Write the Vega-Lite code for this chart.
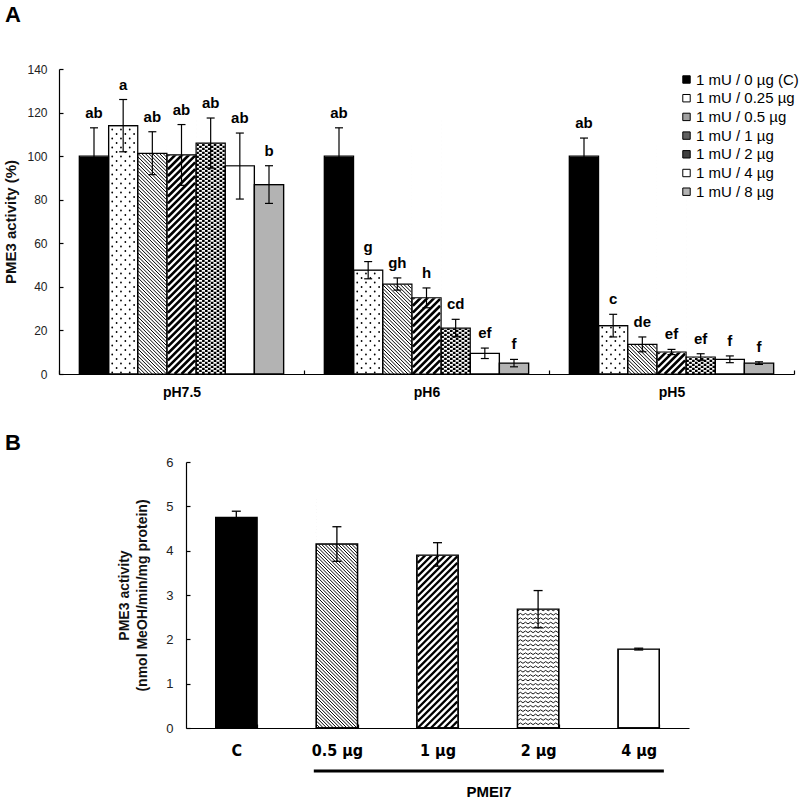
{
  "$schema": "https://vega.github.io/schema/vega-lite/v6.json",
  "background": "white",
  "padding": {"left": 3, "top": 4, "right": 0, "bottom": 0},
  "spacing": 33,
  "config": {
    "view": {"stroke": null},
    "font": "Liberation Sans",
    "axis": {"domainColor": "black", "tickColor": "black", "domainWidth": 1.2, "tickWidth": 1.2, "labelColor": "#222", "titleColor": "#111", "grid": false, "tickSize": -4}
  },
  "datasets": {
    "a": [
      {"ph": "pH7.5", "dose": "1 mU / 0 µg (C)", "v": 100, "lo": 87, "hi": 113, "lab": "ab"},
      {"ph": "pH7.5", "dose": "1 mU / 0.25 µg", "v": 114, "lo": 102, "hi": 126, "lab": "a"},
      {"ph": "pH7.5", "dose": "1 mU / 0.5 µg", "v": 101.3, "lo": 91.5, "hi": 111.2, "lab": "ab"},
      {"ph": "pH7.5", "dose": "1 mU / 1 µg", "v": 100.6, "lo": 86.6, "hi": 114.5, "lab": "ab"},
      {"ph": "pH7.5", "dose": "1 mU / 2 µg", "v": 106, "lo": 94.5, "hi": 117.5, "lab": "ab"},
      {"ph": "pH7.5", "dose": "1 mU / 4 µg", "v": 95.6, "lo": 80.3, "hi": 110.6, "lab": "ab"},
      {"ph": "pH7.5", "dose": "1 mU / 8 µg", "v": 86.9, "lo": 78.3, "hi": 95.6, "lab": "b"},
      {"ph": "pH6", "dose": "1 mU / 0 µg (C)", "v": 100, "lo": 87, "hi": 113, "lab": "ab"},
      {"ph": "pH6", "dose": "1 mU / 0.25 µg", "v": 47.7, "lo": 43.7, "hi": 51.6, "lab": "g"},
      {"ph": "pH6", "dose": "1 mU / 0.5 µg", "v": 41.3, "lo": 38.5, "hi": 44.1, "lab": "gh"},
      {"ph": "pH6", "dose": "1 mU / 1 µg", "v": 35, "lo": 30.4, "hi": 39.5, "lab": "h"},
      {"ph": "pH6", "dose": "1 mU / 2 µg", "v": 21.1, "lo": 17.1, "hi": 25.1, "lab": "cd"},
      {"ph": "pH6", "dose": "1 mU / 4 µg", "v": 9.5, "lo": 7.1, "hi": 11.9, "lab": "ef"},
      {"ph": "pH6", "dose": "1 mU / 8 µg", "v": 5, "lo": 3.3, "hi": 6.7, "lab": "f"},
      {"ph": "pH5", "dose": "1 mU / 0 µg (C)", "v": 100, "lo": 91.7, "hi": 108.3, "lab": "ab"},
      {"ph": "pH5", "dose": "1 mU / 0.25 µg", "v": 22.2, "lo": 17, "hi": 27.4, "lab": "c"},
      {"ph": "pH5", "dose": "1 mU / 0.5 µg", "v": 13.6, "lo": 10.2, "hi": 17, "lab": "de"},
      {"ph": "pH5", "dose": "1 mU / 1 µg", "v": 10.1, "lo": 8.9, "hi": 11.3, "lab": "ef"},
      {"ph": "pH5", "dose": "1 mU / 2 µg", "v": 7.8, "lo": 6.3, "hi": 9.3, "lab": "ef"},
      {"ph": "pH5", "dose": "1 mU / 4 µg", "v": 6.7, "lo": 5.2, "hi": 8.3, "lab": "f"},
      {"ph": "pH5", "dose": "1 mU / 8 µg", "v": 5, "lo": 4.4, "hi": 5.6, "lab": "f"}
    ],
    "b": [
      {"t": "C", "v": 4.75, "lo": 4.61, "hi": 4.89},
      {"t": "0.5 µg", "v": 4.15, "lo": 3.76, "hi": 4.54},
      {"t": "1 µg", "v": 3.9, "lo": 3.65, "hi": 4.18},
      {"t": "2 µg", "v": 2.68, "lo": 2.26, "hi": 3.1},
      {"t": "4 µg", "v": 1.78, "lo": 1.76, "hi": 1.8}
    ]
  },
  "vconcat": [
    {
      "width": 735,
      "height": 305,
      "title": {"text": "A", "anchor": "start", "frame": "group", "dx": -54, "fontSize": 22, "fontWeight": "bold", "offset": 36, "color": "black"},
      "data": {"name": "a"},
      "encoding": {
        "x": {"field": "ph", "type": "nominal", "sort": ["pH7.5", "pH6", "pH5"], "scale": {"domain": ["pH7.5", "pH6", "pH5"], "paddingInner": 0, "paddingOuter": 0},
          "axis": {"title": null, "labelAngle": 0, "tickBand": "extent", "labelFontWeight": "bold", "labelFontSize": 14, "labelColor": "black", "labelPadding": 15}},
        "xOffset": {"field": "dose", "type": "nominal", "scale": {"domain": ["1 mU / 0 µg (C)", "1 mU / 0.25 µg", "1 mU / 0.5 µg", "1 mU / 1 µg", "1 mU / 2 µg", "1 mU / 4 µg", "1 mU / 8 µg"], "paddingInner": 0, "paddingOuter": 0.7}}
      },
      "layer": [
        {
          "mark": {"type": "bar", "stroke": "black", "strokeWidth": 1.2},
          "encoding": {
            "y": {"field": "v", "type": "quantitative", "scale": {"domain": [0, 140], "nice": false},
              "axis": {"title": "PME3 activity (%)", "values": [0, 20, 40, 60, 80, 100, 120, 140], "labelFontSize": 12, "labelPadding": 16, "titleFontSize": 15, "titleFontWeight": "bold", "titlePadding": 8}},
            "fill": {"field": "dose", "type": "nominal",
              "scale": {"domain": ["1 mU / 0 µg (C)", "1 mU / 0.25 µg", "1 mU / 0.5 µg", "1 mU / 1 µg", "1 mU / 2 µg", "1 mU / 4 µg", "1 mU / 8 µg"], "range": ["black", "white", "#a0a0a0", "#606060", "#404040", "white", "#b3b3b3"]},
              "legend": {"orient": "none", "legendX": 620, "legendY": 3, "title": null, "symbolType": "square", "symbolSize": 55, "symbolStrokeColor": "black", "symbolStrokeWidth": 1, "labelFontSize": 15, "labelColor": "black", "labelOffset": 2, "rowPadding": 2.7, "padding": 0, "labelLimit": 250}}
          }
        },
        {
          "transform": [{"filter": {"field": "dose", "oneOf": ["1 mU / 0.5 µg", "1 mU / 1 µg", "1 mU / 2 µg"]}}],
          "mark": {"type": "bar", "fill": "white"},
          "encoding": {"y": {"field": "v", "type": "quantitative"}}
        },
        {
          "transform": [{"filter": {"field": "dose", "equal": "1 mU / 0.5 µg"}}],
          "mark": {"type": "point", "filled": false, "opacity": 1, "stroke": "black", "strokeWidth": 1, "size": 50.6,
            "shape": "M-4 -72l8 8M-4 -71l8 8M-4 -70l8 8M-4 -69l8 8M-4 -68l8 8M-4 -67l8 8M-4 -66l8 8M-4 -65l8 8M-4 -64l8 8M-4 -63l8 8M-4 -62l8 8M-4 -61l8 8M-4 -60l8 8M-4 -59l8 8M-4 -58l8 8M-4 -57l8 8M-4 -56l8 8M-4 -55l8 8M-4 -54l8 8M-4 -53l8 8M-4 -52l8 8M-4 -51l8 8M-4 -50l8 8M-4 -49l8 8M-4 -48l8 8M-4 -47l8 8M-4 -46l8 8M-4 -45l8 8M-4 -44l8 8M-4 -43l8 8M-4 -42l8 8M-4 -41l8 8M-4 -40l8 8M-4 -39l8 8M-4 -38l8 8M-4 -37l8 8M-4 -36l8 8M-4 -35l8 8M-4 -34l8 8M-4 -33l8 8M-4 -32l8 8M-4 -31l8 8M-4 -30l8 8M-4 -29l8 8M-4 -28l8 8M-4 -27l8 8M-4 -26l8 8M-4 -25l8 8M-4 -24l8 8M-4 -23l8 8M-4 -22l8 8M-4 -21l8 8M-4 -20l8 8M-4 -19l8 8M-4 -18l8 8M-4 -17l8 8M-4 -16l8 8M-4 -15l8 8M-4 -14l8 8M-4 -13l8 8M-4 -12l8 8M-4 -11l8 8M-4 -10l8 8M-4 -9l8 8M-4 -8l8 8M-4 -7l7 7M-4 -6l6 6M-4 -5l5 5M-4 -4l4 4M-4 -3l3 3M-4 -2l2 2M-4 -1l1 1"},
          "encoding": {"y": {"datum": 0}}
        },
        {
          "transform": [{"filter": {"field": "dose", "equal": "1 mU / 1 µg"}}],
          "mark": {"type": "point", "filled": false, "opacity": 1, "stroke": "black", "strokeWidth": 2.6, "size": 46.6,
            "shape": "M-4 -68l8 -8M-4 -66l8 -8M-4 -64l8 -8M-4 -62l8 -8M-4 -60l8 -8M-4 -58l8 -8M-4 -56l8 -8M-4 -54l8 -8M-4 -52l8 -8M-4 -50l8 -8M-4 -48l8 -8M-4 -46l8 -8M-4 -44l8 -8M-4 -42l8 -8M-4 -40l8 -8M-4 -38l8 -8M-4 -36l8 -8M-4 -34l8 -8M-4 -32l8 -8M-4 -30l8 -8M-4 -28l8 -8M-4 -26l8 -8M-4 -24l8 -8M-4 -22l8 -8M-4 -20l8 -8M-4 -18l8 -8M-4 -16l8 -8M-4 -14l8 -8M-4 -12l8 -8M-4 -10l8 -8M-4 -8l8 -8M-4 -6l8 -8M-4 -4l8 -8M-4 -2l8 -8M-4 0l8 -8M-2 0l6 -6M0 0l4 -4M2 0l2 -2"},
          "encoding": {"y": {"datum": 0}}
        },
        {
          "transform": [{"filter": {"field": "dose", "equal": "1 mU / 0.25 µg"}}],
          "mark": {"type": "point", "filled": false, "opacity": 1, "stroke": "black", "strokeWidth": 1.8, "strokeCap": "round", "strokeDash": [0.1, 8.9], "size": 53.2,
            "shape": "M-3 -0.4L-3 -70M-1.8 -1.63L-1.8 -70M-0.6 -0.4L-0.6 -70M0.6 -1.63L0.6 -70M1.8 -0.4L1.8 -70M3 -1.63L3 -70"},
          "encoding": {"y": {"datum": 0}}
        },
        {
          "transform": [{"filter": {"field": "dose", "equal": "1 mU / 2 µg"}}],
          "mark": {"type": "point", "filled": false, "opacity": 1, "stroke": "black", "strokeWidth": 2.6, "strokeDash": [2.3, 1.7], "size": 53.2,
            "shape": "M-3.6 0L-3.6 -70M-2.8 -0.55L-2.8 -70M-2 0L-2 -70M-1.2 -0.55L-1.2 -70M-0.4 0L-0.4 -70M0.4 -0.55L0.4 -70M1.2 0L1.2 -70M2 -0.55L2 -70M2.8 0L2.8 -70M3.6 -0.55L3.6 -70"},
          "encoding": {"y": {"datum": 0}}
        },
        {
          "mark": {"type": "bar", "fill": "white", "stroke": "white", "strokeWidth": 1},
          "encoding": {"y": {"field": "v", "type": "quantitative"}, "y2": {"datum": 140}}
        },
        {
          "mark": {"type": "bar", "fill": "transparent", "stroke": "black", "strokeWidth": 1.2},
          "encoding": {"y": {"field": "v", "type": "quantitative"}}
        },
        {
          "mark": {"type": "rule", "strokeWidth": 1.2, "color": "black"},
          "encoding": {"y": {"field": "lo", "type": "quantitative"}, "y2": {"field": "hi"}}
        },
        {
          "mark": {"type": "tick", "size": 8, "thickness": 1.2, "color": "black", "opacity": 1},
          "encoding": {"y": {"field": "hi", "type": "quantitative"}}
        },
        {
          "mark": {"type": "tick", "size": 8, "thickness": 1.2, "color": "black", "opacity": 1},
          "encoding": {"y": {"field": "lo", "type": "quantitative"}}
        },
        {
          "mark": {"type": "text", "dy": -10, "baseline": "alphabetic", "fontSize": 15, "fontWeight": "bold", "color": "black"},
          "encoding": {"y": {"field": "hi", "type": "quantitative"}, "text": {"field": "lab"}}
        }
      ]
    },
    {
      "spacing": 0,
      "hconcat": [
        {
          "width": 58,
          "height": 266,
          "title": {"text": "B", "anchor": "start", "frame": "group", "dx": -54, "fontSize": 22, "fontWeight": "bold", "offset": 7, "color": "black"},
          "data": {"values": [{}]},
          "mark": {"type": "point", "opacity": 0},
          "encoding": {}
        },
        {
          "width": 503,
          "height": 266,
          "data": {"name": "b"},
          "encoding": {
            "x": {"field": "t", "type": "nominal", "sort": ["C", "0.5 µg", "1 µg", "2 µg", "4 µg"], "scale": {"domain": ["C", "0.5 µg", "1 µg", "2 µg", "4 µg"], "paddingInner": 0.59, "paddingOuter": 0.295},
              "axis": {"title": null, "labelAngle": 0, "tickBand": "extent", "labelFontWeight": "bold", "labelFontSize": 16, "labelFont": "Liberation Sans Narrow, DejaVu Sans Condensed, Liberation Sans", "labelColor": "black", "labelPadding": 18}}
          },
          "layer": [
            {
              "mark": {"type": "bar", "stroke": "black", "strokeWidth": 1.3},
              "encoding": {
                "y": {"field": "v", "type": "quantitative", "scale": {"domain": [0, 6], "nice": false},
                  "axis": {"title": ["PME3 activity", "(nmol MeOH/min/mg protein)"], "values": [0, 1, 2, 3, 4, 5, 6], "labelFontSize": 13, "labelPadding": 17, "titleFontSize": 14, "titleFontWeight": "bold", "titleLineHeight": 18, "titlePadding": 16}},
                "fill": {"condition": {"test": "datum.t === 'C'", "value": "black"}, "value": "white"}
              }
            },
            {
              "transform": [{"filter": {"field": "t", "equal": "0.5 µg"}}],
              "mark": {"type": "point", "filled": false, "opacity": 1, "stroke": "black", "strokeWidth": 1, "size": 45.3,
                "shape": "M-6 -68l12 12M-6 -67l12 12M-6 -66l12 12M-6 -65l12 12M-6 -64l12 12M-6 -63l12 12M-6 -62l12 12M-6 -61l12 12M-6 -60l12 12M-6 -59l12 12M-6 -58l12 12M-6 -57l12 12M-6 -56l12 12M-6 -55l12 12M-6 -54l12 12M-6 -53l12 12M-6 -52l12 12M-6 -51l12 12M-6 -50l12 12M-6 -49l12 12M-6 -48l12 12M-6 -47l12 12M-6 -46l12 12M-6 -45l12 12M-6 -44l12 12M-6 -43l12 12M-6 -42l12 12M-6 -41l12 12M-6 -40l12 12M-6 -39l12 12M-6 -38l12 12M-6 -37l12 12M-6 -36l12 12M-6 -35l12 12M-6 -34l12 12M-6 -33l12 12M-6 -32l12 12M-6 -31l12 12M-6 -30l12 12M-6 -29l12 12M-6 -28l12 12M-6 -27l12 12M-6 -26l12 12M-6 -25l12 12M-6 -24l12 12M-6 -23l12 12M-6 -22l12 12M-6 -21l12 12M-6 -20l12 12M-6 -19l12 12M-6 -18l12 12M-6 -17l12 12M-6 -16l12 12M-6 -15l12 12M-6 -14l12 12M-6 -13l12 12M-6 -12l12 12M-6 -11l11 11M-6 -10l10 10M-6 -9l9 9M-6 -8l8 8M-6 -7l7 7M-6 -6l6 6M-6 -5l5 5M-6 -4l4 4M-6 -3l3 3M-6 -2l2 2M-6 -1l1 1"},
              "encoding": {"y": {"datum": 0}}
            },
            {
              "transform": [{"filter": {"field": "t", "equal": "1 µg"}}],
              "mark": {"type": "point", "filled": false, "opacity": 1, "stroke": "black", "strokeWidth": 2.3, "size": 43.6,
                "shape": "M-6 -56l12 -12M-6 -54l12 -12M-6 -52l12 -12M-6 -50l12 -12M-6 -48l12 -12M-6 -46l12 -12M-6 -44l12 -12M-6 -42l12 -12M-6 -40l12 -12M-6 -38l12 -12M-6 -36l12 -12M-6 -34l12 -12M-6 -32l12 -12M-6 -30l12 -12M-6 -28l12 -12M-6 -26l12 -12M-6 -24l12 -12M-6 -22l12 -12M-6 -20l12 -12M-6 -18l12 -12M-6 -16l12 -12M-6 -14l12 -12M-6 -12l12 -12M-6 -10l12 -12M-6 -8l12 -12M-6 -6l12 -12M-6 -4l12 -12M-6 -2l12 -12M-6 0l12 -12M-4 0l10 -10M-2 0l8 -8M0 0l6 -6M2 0l4 -4M4 0l2 -2"},
              "encoding": {"y": {"datum": 0}}
            },
            {
              "transform": [{"filter": {"field": "t", "equal": "2 µg"}}],
              "mark": {"type": "point", "filled": false, "opacity": 1, "stroke": "black", "strokeWidth": 0.9, "size": 45.4,
                "shape": "M-6 -1l0.75 -0.5 0.75 0.5 0.75 -0.5 0.75 0.5 0.75 -0.5 0.75 0.5 0.75 -0.5 0.75 0.5 0.75 -0.5 0.75 0.5 0.75 -0.5 0.75 0.5 0.75 -0.5 0.75 0.5 0.75 -0.5 0.75 0.5M-6 -2.3l0.75 -0.5 0.75 0.5 0.75 -0.5 0.75 0.5 0.75 -0.5 0.75 0.5 0.75 -0.5 0.75 0.5 0.75 -0.5 0.75 0.5 0.75 -0.5 0.75 0.5 0.75 -0.5 0.75 0.5 0.75 -0.5 0.75 0.5M-6 -3.6l0.75 -0.5 0.75 0.5 0.75 -0.5 0.75 0.5 0.75 -0.5 0.75 0.5 0.75 -0.5 0.75 0.5 0.75 -0.5 0.75 0.5 0.75 -0.5 0.75 0.5 0.75 -0.5 0.75 0.5 0.75 -0.5 0.75 0.5M-6 -4.9l0.75 -0.5 0.75 0.5 0.75 -0.5 0.75 0.5 0.75 -0.5 0.75 0.5 0.75 -0.5 0.75 0.5 0.75 -0.5 0.75 0.5 0.75 -0.5 0.75 0.5 0.75 -0.5 0.75 0.5 0.75 -0.5 0.75 0.5M-6 -6.2l0.75 -0.5 0.75 0.5 0.75 -0.5 0.75 0.5 0.75 -0.5 0.75 0.5 0.75 -0.5 0.75 0.5 0.75 -0.5 0.75 0.5 0.75 -0.5 0.75 0.5 0.75 -0.5 0.75 0.5 0.75 -0.5 0.75 0.5M-6 -7.5l0.75 -0.5 0.75 0.5 0.75 -0.5 0.75 0.5 0.75 -0.5 0.75 0.5 0.75 -0.5 0.75 0.5 0.75 -0.5 0.75 0.5 0.75 -0.5 0.75 0.5 0.75 -0.5 0.75 0.5 0.75 -0.5 0.75 0.5M-6 -8.8l0.75 -0.5 0.75 0.5 0.75 -0.5 0.75 0.5 0.75 -0.5 0.75 0.5 0.75 -0.5 0.75 0.5 0.75 -0.5 0.75 0.5 0.75 -0.5 0.75 0.5 0.75 -0.5 0.75 0.5 0.75 -0.5 0.75 0.5M-6 -10.1l0.75 -0.5 0.75 0.5 0.75 -0.5 0.75 0.5 0.75 -0.5 0.75 0.5 0.75 -0.5 0.75 0.5 0.75 -0.5 0.75 0.5 0.75 -0.5 0.75 0.5 0.75 -0.5 0.75 0.5 0.75 -0.5 0.75 0.5M-6 -11.4l0.75 -0.5 0.75 0.5 0.75 -0.5 0.75 0.5 0.75 -0.5 0.75 0.5 0.75 -0.5 0.75 0.5 0.75 -0.5 0.75 0.5 0.75 -0.5 0.75 0.5 0.75 -0.5 0.75 0.5 0.75 -0.5 0.75 0.5M-6 -12.7l0.75 -0.5 0.75 0.5 0.75 -0.5 0.75 0.5 0.75 -0.5 0.75 0.5 0.75 -0.5 0.75 0.5 0.75 -0.5 0.75 0.5 0.75 -0.5 0.75 0.5 0.75 -0.5 0.75 0.5 0.75 -0.5 0.75 0.5M-6 -14l0.75 -0.5 0.75 0.5 0.75 -0.5 0.75 0.5 0.75 -0.5 0.75 0.5 0.75 -0.5 0.75 0.5 0.75 -0.5 0.75 0.5 0.75 -0.5 0.75 0.5 0.75 -0.5 0.75 0.5 0.75 -0.5 0.75 0.5M-6 -15.3l0.75 -0.5 0.75 0.5 0.75 -0.5 0.75 0.5 0.75 -0.5 0.75 0.5 0.75 -0.5 0.75 0.5 0.75 -0.5 0.75 0.5 0.75 -0.5 0.75 0.5 0.75 -0.5 0.75 0.5 0.75 -0.5 0.75 0.5M-6 -16.6l0.75 -0.5 0.75 0.5 0.75 -0.5 0.75 0.5 0.75 -0.5 0.75 0.5 0.75 -0.5 0.75 0.5 0.75 -0.5 0.75 0.5 0.75 -0.5 0.75 0.5 0.75 -0.5 0.75 0.5 0.75 -0.5 0.75 0.5M-6 -17.9l0.75 -0.5 0.75 0.5 0.75 -0.5 0.75 0.5 0.75 -0.5 0.75 0.5 0.75 -0.5 0.75 0.5 0.75 -0.5 0.75 0.5 0.75 -0.5 0.75 0.5 0.75 -0.5 0.75 0.5 0.75 -0.5 0.75 0.5M-6 -19.2l0.75 -0.5 0.75 0.5 0.75 -0.5 0.75 0.5 0.75 -0.5 0.75 0.5 0.75 -0.5 0.75 0.5 0.75 -0.5 0.75 0.5 0.75 -0.5 0.75 0.5 0.75 -0.5 0.75 0.5 0.75 -0.5 0.75 0.5M-6 -20.5l0.75 -0.5 0.75 0.5 0.75 -0.5 0.75 0.5 0.75 -0.5 0.75 0.5 0.75 -0.5 0.75 0.5 0.75 -0.5 0.75 0.5 0.75 -0.5 0.75 0.5 0.75 -0.5 0.75 0.5 0.75 -0.5 0.75 0.5M-6 -21.8l0.75 -0.5 0.75 0.5 0.75 -0.5 0.75 0.5 0.75 -0.5 0.75 0.5 0.75 -0.5 0.75 0.5 0.75 -0.5 0.75 0.5 0.75 -0.5 0.75 0.5 0.75 -0.5 0.75 0.5 0.75 -0.5 0.75 0.5M-6 -23.1l0.75 -0.5 0.75 0.5 0.75 -0.5 0.75 0.5 0.75 -0.5 0.75 0.5 0.75 -0.5 0.75 0.5 0.75 -0.5 0.75 0.5 0.75 -0.5 0.75 0.5 0.75 -0.5 0.75 0.5 0.75 -0.5 0.75 0.5M-6 -24.4l0.75 -0.5 0.75 0.5 0.75 -0.5 0.75 0.5 0.75 -0.5 0.75 0.5 0.75 -0.5 0.75 0.5 0.75 -0.5 0.75 0.5 0.75 -0.5 0.75 0.5 0.75 -0.5 0.75 0.5 0.75 -0.5 0.75 0.5M-6 -25.7l0.75 -0.5 0.75 0.5 0.75 -0.5 0.75 0.5 0.75 -0.5 0.75 0.5 0.75 -0.5 0.75 0.5 0.75 -0.5 0.75 0.5 0.75 -0.5 0.75 0.5 0.75 -0.5 0.75 0.5 0.75 -0.5 0.75 0.5M-6 -27l0.75 -0.5 0.75 0.5 0.75 -0.5 0.75 0.5 0.75 -0.5 0.75 0.5 0.75 -0.5 0.75 0.5 0.75 -0.5 0.75 0.5 0.75 -0.5 0.75 0.5 0.75 -0.5 0.75 0.5 0.75 -0.5 0.75 0.5M-6 -28.3l0.75 -0.5 0.75 0.5 0.75 -0.5 0.75 0.5 0.75 -0.5 0.75 0.5 0.75 -0.5 0.75 0.5 0.75 -0.5 0.75 0.5 0.75 -0.5 0.75 0.5 0.75 -0.5 0.75 0.5 0.75 -0.5 0.75 0.5M-6 -29.6l0.75 -0.5 0.75 0.5 0.75 -0.5 0.75 0.5 0.75 -0.5 0.75 0.5 0.75 -0.5 0.75 0.5 0.75 -0.5 0.75 0.5 0.75 -0.5 0.75 0.5 0.75 -0.5 0.75 0.5 0.75 -0.5 0.75 0.5M-6 -30.9l0.75 -0.5 0.75 0.5 0.75 -0.5 0.75 0.5 0.75 -0.5 0.75 0.5 0.75 -0.5 0.75 0.5 0.75 -0.5 0.75 0.5 0.75 -0.5 0.75 0.5 0.75 -0.5 0.75 0.5 0.75 -0.5 0.75 0.5M-6 -32.2l0.75 -0.5 0.75 0.5 0.75 -0.5 0.75 0.5 0.75 -0.5 0.75 0.5 0.75 -0.5 0.75 0.5 0.75 -0.5 0.75 0.5 0.75 -0.5 0.75 0.5 0.75 -0.5 0.75 0.5 0.75 -0.5 0.75 0.5M-6 -33.5l0.75 -0.5 0.75 0.5 0.75 -0.5 0.75 0.5 0.75 -0.5 0.75 0.5 0.75 -0.5 0.75 0.5 0.75 -0.5 0.75 0.5 0.75 -0.5 0.75 0.5 0.75 -0.5 0.75 0.5 0.75 -0.5 0.75 0.5M-6 -34.8l0.75 -0.5 0.75 0.5 0.75 -0.5 0.75 0.5 0.75 -0.5 0.75 0.5 0.75 -0.5 0.75 0.5 0.75 -0.5 0.75 0.5 0.75 -0.5 0.75 0.5 0.75 -0.5 0.75 0.5 0.75 -0.5 0.75 0.5M-6 -36.1l0.75 -0.5 0.75 0.5 0.75 -0.5 0.75 0.5 0.75 -0.5 0.75 0.5 0.75 -0.5 0.75 0.5 0.75 -0.5 0.75 0.5 0.75 -0.5 0.75 0.5 0.75 -0.5 0.75 0.5 0.75 -0.5 0.75 0.5"},
              "encoding": {"y": {"datum": 0}}
            },
            {
              "mark": {"type": "bar", "fill": "white", "stroke": "white", "strokeWidth": 1},
              "encoding": {"y": {"field": "v", "type": "quantitative"}, "y2": {"datum": 6}}
            },
            {
              "mark": {"type": "bar", "fill": "transparent", "stroke": "black", "strokeWidth": 1.3},
              "encoding": {"y": {"field": "v", "type": "quantitative"}}
            },
            {
              "mark": {"type": "rule", "strokeWidth": 1.3, "color": "black"},
              "encoding": {"y": {"field": "lo", "type": "quantitative"}, "y2": {"field": "hi"}}
            },
            {
              "mark": {"type": "tick", "size": 9, "thickness": 1.3, "color": "black", "opacity": 1},
              "encoding": {"y": {"field": "hi", "type": "quantitative"}}
            },
            {
              "mark": {"type": "tick", "size": 9, "thickness": 1.3, "color": "black", "opacity": 1},
              "encoding": {"y": {"field": "lo", "type": "quantitative"}}
            },
            {
              "data": {"values": [{}]},
              "mark": {"type": "rule", "strokeWidth": 3, "color": "black"},
              "encoding": {
                "x": {"datum": "0.5 µg", "type": "nominal", "bandPosition": -0.06},
                "x2": {"datum": "4 µg", "bandPosition": 1.11},
                "y": {"datum": -0.97}
              }
            },
            {
              "data": {"values": [{}]},
              "mark": {"type": "text", "fontWeight": "bold", "fontSize": 15, "baseline": "middle", "color": "black"},
              "encoding": {
                "x": {"datum": "2 µg", "type": "nominal", "bandPosition": -0.69},
                "y": {"datum": -1.44},
                "text": {"value": "PMEI7"}
              }
            }
          ]
        }
      ]
    }
  ]
}
